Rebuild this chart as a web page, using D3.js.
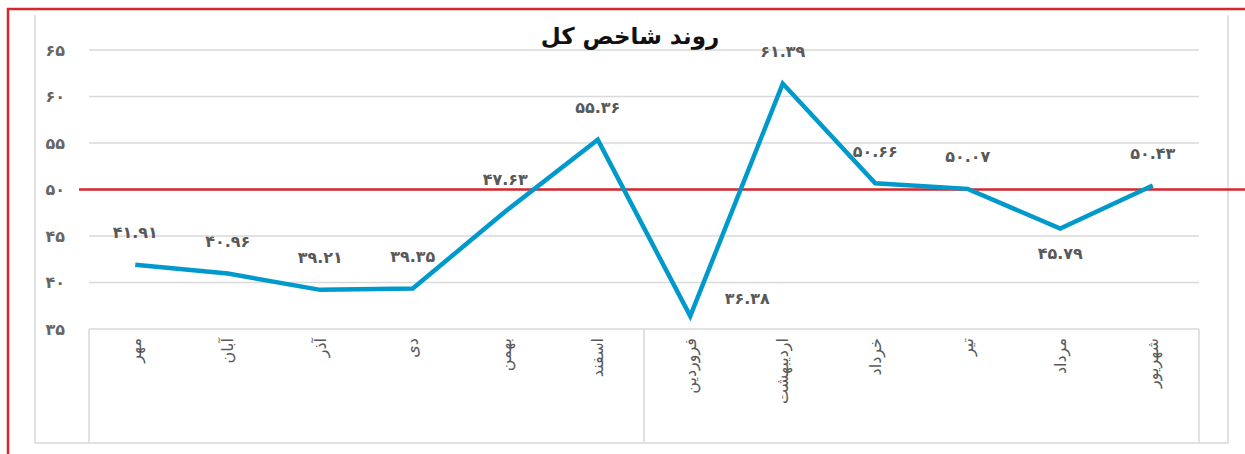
<!DOCTYPE html>
<html>
<head>
<meta charset="utf-8">
<script src="https://cdn.jsdelivr.net/npm/d3@7"></script>
<style>
  body { margin: 0; background: #fff; }
  text { font-family: "DejaVu Sans", sans-serif; }
</style>
</head>
<body>
<div id="chart"></div>
<script>
// chart data
const title = "روند شاخص کل";
const months = ["مهر", "آبان", "آذر", "دی", "بهمن", "اسفند", "فروردین", "اردیبهشت", "خرداد", "تیر", "مرداد", "شهریور"];
const indexValues = [41.91, 40.96, 39.21, 39.35, 47.63, 55.36, 36.38, 61.39, 50.66, 50.07, 45.79, 50.43];
const labelSide = ["top", "top", "top", "top", "top", "top", "right", "top", "top", "top", "bottom", "top"];
const yTicks = [35, 40, 45, 50, 55, 60, 65];
const threshold = 50;

const W = 1245, H = 454;
const fa = s => String(s).replace(/\d/g, d => "۰۱۲۳۴۵۶۷۸۹"[d]);

const svg = d3.select("#chart").append("svg")
  .attr("width", W)
  .attr("height", H);

svg.append("rect").attr("width", W).attr("height", H).attr("fill", "#fff");

const x = d3.scaleBand().domain(months).range([89, 1199]);
const y = d3.scaleLinear().domain([35, 65]).range([329, 50]);
const cx = m => x(m) + x.bandwidth() / 2;

// outer chart frame (gray)
const gray = "#d9d9d9";
svg.append("path")
  .attr("d", "M35,15 V443 H1228 V15")
  .attr("fill", "none").attr("stroke", gray).attr("stroke-width", 1.5);

// gridlines
svg.append("g").selectAll("line")
  .data(yTicks)
  .join("line")
  .attr("x1", 89).attr("x2", 1199)
  .attr("y1", d => y(d)).attr("y2", d => y(d))
  .attr("stroke", gray).attr("stroke-width", 1.5);

// category box
svg.append("path")
  .attr("d", `M89,${y(35)} V443 M1199,${y(35)} V443 M644,${y(35)} V443`)
  .attr("stroke", gray).attr("stroke-width", 1.5);

// y tick labels
svg.append("g").selectAll("text")
  .data(yTicks)
  .join("text")
  .attr("x", 65).attr("y", d => y(d))
  .attr("text-anchor", "end")
  .attr("dominant-baseline", "central")
  .attr("font-size", 16).attr("font-weight", "bold")
  .attr("fill", "#666")
  .text(d => fa(d));

// category labels (rotated)
svg.append("g").selectAll("text")
  .data(months)
  .join("text")
  .attr("transform", d => `translate(${cx(d)},338) rotate(-90)`)
  .attr("text-anchor", "end")
  .attr("dominant-baseline", "central")
  .attr("font-size", 16)
  .attr("fill", "#595959")
  .text(d => d);

// threshold line at 50
svg.append("line")
  .attr("x1", 79).attr("x2", W)
  .attr("y1", y(threshold)).attr("y2", y(threshold))
  .attr("stroke", "#d7262d").attr("stroke-width", 2.5);

// index line
const line = d3.line()
  .x((d, i) => cx(months[i]))
  .y(d => y(d));

svg.append("path")
  .datum(indexValues)
  .attr("d", line)
  .attr("fill", "none")
  .attr("stroke", "#0099cc")
  .attr("stroke-width", 4.5)
  .attr("stroke-linejoin", "miter");

// data labels
svg.append("g").selectAll("text")
  .data(indexValues)
  .join("text")
  .attr("x", (d, i) => cx(months[i]) + (labelSide[i] === "right" ? 57 : 0))
  .attr("y", (d, i) => y(d) + (labelSide[i] === "top" ? -32 : labelSide[i] === "bottom" ? 25 : -18))
  .attr("text-anchor", "middle")
  .attr("dominant-baseline", "central")
  .attr("font-size", 16).attr("font-weight", "bold")
  .attr("fill", "#595959")
  .text(d => fa(d.toFixed(2)));

// title
svg.append("text")
  .attr("x", 630).attr("y", 36)
  .attr("text-anchor", "middle")
  .attr("dominant-baseline", "central")
  .attr("font-size", 23).attr("font-weight", "bold")
  .attr("fill", "#111")
  .text(title);

// outer red frame (top and left edges visible)
svg.append("path")
  .attr("d", `M8,${H} V9 H${W}`)
  .attr("fill", "none")
  .attr("stroke", "#d7262d").attr("stroke-width", 2.5);
</script>
</body>
</html>
